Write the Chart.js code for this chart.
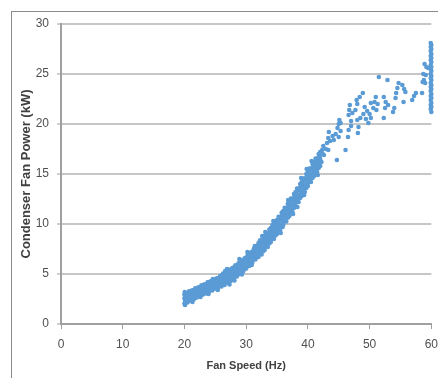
<!DOCTYPE html>
<html><head><meta charset="utf-8">
<script src="https://cdn.jsdelivr.net/npm/chart.js@4"></script>
<style>
html,body{margin:0;padding:0;background:#fff;overflow:hidden;width:438px;height:378px;}
#frame{position:absolute;left:11px;top:11px;width:600px;height:600px;border-left:1px solid #8a8a8a;border-top:1px solid #8a8a8a;}
#wrap{position:absolute;left:0;top:0;width:446px;height:378px;}
</style></head><body>
<div id="frame"></div>
<div id="wrap"><canvas id="c" width="446" height="378"></canvas></div>
<script>
// Axis settings / labels
const xTitle = 'Fan Speed (Hz)';
const yTitle = 'Condenser Fan Power (kW)';
const xTicks = [0, 10, 20, 30, 40, 50, 60];
const yTicks = [0, 5, 10, 15, 20, 25, 30];

// Dense operating band, [fan speed Hz, fan power kW]
const bandReadings = [
[20.00,2.05],[20.00,2.55],[20.00,2.95],[20.25,2.28],[20.25,2.53],[20.25,3.08],
[20.50,2.15],[20.50,2.75],[20.50,3.00],[20.75,2.32],[20.75,2.72],[20.75,3.27],
[21.00,2.35],[21.00,2.85],[21.00,3.25],[21.25,2.58],[21.25,2.83],[21.25,3.38],
[21.50,2.45],[21.50,3.05],[21.50,3.30],[21.75,2.63],[21.75,3.03],[21.75,3.58],
[22.00,2.65],[22.00,3.15],[22.00,3.55],[22.25,2.88],[22.25,3.13],[22.25,3.68],
[22.50,2.75],[22.50,3.35],[22.50,3.60],[22.75,2.93],[22.75,3.33],[22.75,3.88],
[23.00,2.95],[23.00,3.45],[23.00,3.85],[23.25,3.18],[23.25,3.43],[23.25,3.98],
[23.50,3.05],[23.50,3.65],[23.50,3.90],[23.75,3.23],[23.75,3.63],[23.75,4.18],
[24.00,3.25],[24.00,3.75],[24.00,4.15],[24.25,3.48],[24.25,3.73],[24.25,4.28],
[24.50,3.35],[24.50,3.95],[24.50,4.20],[24.75,3.53],[24.75,3.93],[24.75,4.48],
[25.00,3.55],[25.00,4.05],[25.00,4.45],[25.25,3.78],[25.25,4.03],[25.25,4.58],
[25.50,3.65],[25.50,4.25],[25.50,4.50],[25.75,3.83],[25.75,4.23],[25.75,4.78],
[26.00,3.75],[26.00,4.35],[26.00,4.85],[26.25,4.00],[26.25,4.50],[26.25,5.05],
[26.50,3.90],[26.50,4.45],[26.50,4.95],[26.75,4.10],[26.75,4.75],[26.75,5.20],
[27.00,4.15],[27.00,4.75],[27.00,5.25],[27.25,4.40],[27.25,4.90],[27.25,5.45],
[27.50,4.30],[27.50,4.85],[27.50,5.35],[27.75,4.50],[27.75,5.15],[27.75,5.60],
[28.00,4.55],[28.00,5.15],[28.00,5.65],[28.25,4.83],[28.25,5.33],[28.25,5.88],
[28.50,4.75],[28.50,5.30],[28.50,5.80],[28.75,4.98],[28.75,5.63],[28.75,6.08],
[29.00,5.05],[29.00,5.65],[29.00,6.15],[29.25,5.33],[29.25,5.83],[29.25,6.38],
[29.50,5.25],[29.50,5.80],[29.50,6.30],[29.75,5.48],[29.75,6.13],[29.75,6.58],
[30.00,5.55],[30.00,6.15],[30.00,6.65],[30.25,5.85],[30.25,6.35],[30.25,6.90],
[30.50,5.80],[30.50,6.35],[30.50,6.85],[30.75,6.05],[30.75,6.70],[30.75,7.15],
[31.00,6.15],[31.00,6.75],[31.00,7.25],[31.25,6.48],[31.25,6.98],[31.25,7.53],
[31.50,6.45],[31.50,7.00],[31.50,7.50],[31.75,6.73],[31.75,7.38],[31.75,7.83],
[32.00,6.70],[32.00,7.40],[32.00,8.10],[32.25,7.03],[32.25,7.73],[32.25,8.38],
[32.50,6.95],[32.50,7.65],[32.50,8.30],[32.75,7.28],[32.75,8.03],[32.75,8.68],
[33.00,7.40],[33.00,8.10],[33.00,8.80],[33.25,7.75],[33.25,8.45],[33.25,9.10],
[33.50,7.70],[33.50,8.40],[33.50,9.05],[33.75,8.05],[33.75,8.80],[33.75,9.45],
[34.00,8.20],[34.00,8.90],[34.00,9.60],[34.25,8.55],[34.25,9.25],[34.25,9.90],
[34.50,8.50],[34.50,9.20],[34.50,9.85],[34.75,8.85],[34.75,9.60],[34.75,10.25],
[35.00,9.00],[35.00,9.70],[35.00,10.40],[35.25,9.38],[35.25,10.08],[35.25,10.73],
[35.50,9.35],[35.50,10.05],[35.50,10.70],[35.75,9.73],[35.75,10.48],[35.75,11.13],
[36.00,9.90],[36.00,10.60],[36.00,11.30],[36.25,10.28],[36.25,10.98],[36.25,11.63],
[36.50,10.25],[36.50,10.95],[36.50,11.60],[36.75,10.63],[36.75,11.38],[36.75,12.03],
[37.00,10.80],[37.00,11.50],[37.00,12.20],[37.25,11.20],[37.25,11.90],[37.25,12.55],
[37.50,11.20],[37.50,11.90],[37.50,12.55],[37.75,11.60],[37.75,12.35],[37.75,13.00],
[38.00,11.80],[38.00,12.50],[38.00,13.20],[38.25,12.20],[38.25,12.90],[38.25,13.55],
[38.50,12.20],[38.50,12.90],[38.50,13.55],[38.75,12.60],[38.75,13.35],[38.75,14.00],
[39.00,12.80],[39.00,13.50],[39.00,14.20],[39.25,13.20],[39.25,13.90],[39.25,14.55],
[39.50,13.20],[39.50,13.90],[39.50,14.55],[39.75,13.60],[39.75,14.35],[39.75,15.00],
[40.00,13.80],[40.00,14.50],[40.00,15.20],[40.25,14.20],[40.25,14.90],[40.25,15.55],
[40.50,14.20],[40.50,14.90],[40.50,15.55],[40.75,14.60],[40.75,15.35],[40.75,16.00],
[41.00,14.80],[41.00,15.50],[41.00,16.20],[41.25,15.20],[41.25,15.90],[41.25,16.55],
[41.50,15.20],[41.50,15.90],[41.50,16.55],[41.75,15.60],[41.75,16.35],[41.75,17.00],
[42.00,15.80],[42.00,16.50],[42.00,17.20]
];

// Further readings inside the band (between the ones above)
const bandReadingsInner = [
[20.125,2.29],[20.125,2.76],[20.375,2.41],[20.375,2.89],[20.625,2.39],[20.625,2.89],
[20.875,2.54],[20.875,3.06],[21.125,2.59],[21.125,3.06],[21.375,2.71],[21.375,3.19],
[21.625,2.69],[21.625,3.19],[21.875,2.84],[21.875,3.36],[22.125,2.89],[22.125,3.36],
[22.375,3.01],[22.375,3.49],[22.625,2.99],[22.625,3.49],[22.875,3.14],[22.875,3.66],
[23.125,3.19],[23.125,3.66],[23.375,3.31],[23.375,3.79],[23.625,3.29],[23.625,3.79],
[23.875,3.44],[23.875,3.96],[24.125,3.49],[24.125,3.96],[24.375,3.61],[24.375,4.09],
[24.625,3.59],[24.625,4.09],[24.875,3.74],[24.875,4.26],[25.125,3.79],[25.125,4.26],
[25.375,3.91],[25.375,4.39],[25.625,3.89],[25.625,4.39],[25.875,4.04],[25.875,4.56],
[26.125,4.05],[26.125,4.63],[26.375,4.20],[26.375,4.80],[26.625,4.20],[26.625,4.80],
[26.875,4.37],[26.875,4.97],[27.125,4.45],[27.125,5.03],[27.375,4.60],[27.375,5.20],
[27.625,4.60],[27.625,5.20],[27.875,4.77],[27.875,5.37],[28.125,4.87],[28.125,5.45],
[28.375,5.04],[28.375,5.64],[28.625,5.07],[28.625,5.67],[28.875,5.26],[28.875,5.86],
[29.125,5.37],[29.125,5.95],[29.375,5.54],[29.375,6.14],[29.625,5.57],[29.625,6.17],
[29.875,5.76],[29.875,6.36],[30.125,5.88],[30.125,6.46],[30.375,6.08],[30.375,6.68],
[30.625,6.13],[30.625,6.73],[30.875,6.35],[30.875,6.95],[31.125,6.49],[31.125,7.07],
[31.375,6.72],[31.375,7.32],[31.625,6.79],[31.625,7.39],[31.875,7.04],[31.875,7.64],
[32.125,7.14],[32.125,7.87],[32.375,7.37],[32.375,8.12],[32.625,7.42],[32.625,8.16],
[32.875,7.64],[32.875,8.42],[33.125,7.85],[33.125,8.58],[33.375,8.10],[33.375,8.85],
[33.625,8.18],[33.625,8.92],[33.875,8.42],[33.875,9.20],[34.125,8.65],[34.125,9.38],
[34.375,8.90],[34.375,9.65],[34.625,8.98],[34.625,9.72],[34.875,9.22],[34.875,10.00],
[35.125,9.47],[35.125,10.20],[35.375,9.74],[35.375,10.49],[35.625,9.85],[35.625,10.59],
[35.875,10.11],[35.875,10.89],[36.125,10.37],[36.125,11.10],[36.375,10.64],[36.375,11.39],
[36.625,10.75],[36.625,11.49],[36.875,11.01],[36.875,11.79],[37.125,11.28],[37.125,12.01],
[37.375,11.58],[37.375,12.33],[37.625,11.71],[37.625,12.45],[37.875,12.00],[37.875,12.78],
[38.125,12.28],[38.125,13.01],[38.375,12.58],[38.375,13.33],[38.625,12.71],[38.625,13.45],
[38.875,13.00],[38.875,13.78],[39.125,13.28],[39.125,14.01],[39.375,13.58],[39.375,14.33],
[39.625,13.71],[39.625,14.45],[39.875,14.00],[39.875,14.78],[40.125,14.28],[40.125,15.01],
[40.375,14.58],[40.375,15.33],[40.625,14.71],[40.625,15.45],[40.875,15.00],[40.875,15.78],
[41.125,15.28],[41.125,16.01],[41.375,15.58],[41.375,16.33],[41.625,15.71],[41.625,16.45],
[41.875,16.00],[41.875,16.78]
];

// Ragged readings along the band edges
const bandEdgeReadings = [
[20.10,1.90],[20.05,3.20],[22.60,2.70],[24.60,4.50],[26.90,5.50],[29.30,4.95],
[33.10,9.20],[35.90,9.70],[38.30,11.70],[39.80,15.50],[28.10,4.35],[31.40,7.80],
[21.30,2.20],[23.90,3.00],[25.40,3.40],[26.60,5.30],[27.30,3.95],[28.90,6.50],
[30.20,7.20],[30.90,5.90],[32.60,8.80],[34.40,10.30],[35.60,9.10],[36.80,12.40],
[37.60,11.00],[38.90,14.60],[39.40,12.90],[40.60,16.30],[41.60,14.90],[42.20,16.20],
[42.40,17.00]
];

// Scattered readings above 42 Hz
const sparseReadings = [
[42.3,17.4],[42.5,17.8],[42.6,16.9],[42.9,17.5],[43.1,18.1],[43.3,17.4],[43.3,18.6],
[43.4,19.2],[43.6,18.3],[44.0,18.8],[44.2,18.4],[44.5,19.0],[44.7,16.4],[44.8,19.6],
[45.0,18.7],[45.0,20.0],[45.1,20.4],[45.3,19.3],[45.3,20.1],[46.1,17.4],[46.5,18.7],
[46.6,19.4],[46.6,20.9],[46.7,21.4],[46.8,21.9],[47.0,20.3],[47.0,19.8],[47.2,21.1],
[47.7,21.4],[47.9,22.4],[48.0,22.0],[48.0,20.4],[48.1,19.1],[48.2,19.7],[48.4,22.7],
[48.5,20.6],[48.9,23.1],[49.0,21.0],[49.2,21.7],[49.4,20.5],[49.6,21.3],[49.8,20.1],
[50.0,21.0],[50.2,20.6],[50.2,22.1],[50.6,21.6],[50.8,22.2],[51.0,22.7],[51.1,21.4],
[51.3,22.0],[51.5,24.7],[52.3,20.6],[52.3,22.7],[52.5,21.6],[52.6,22.2],[52.9,24.4],
[53.0,21.9],[53.8,21.2],[54.0,21.6],[54.2,22.6],[54.3,23.1],[54.5,23.6],[54.7,24.1],
[55.3,23.9],[55.5,22.2],[55.6,23.5],[55.8,23.2],[56.9,22.4],[57.2,22.8],[57.5,23.1],
[58.5,23.1],[58.6,24.2],[58.8,24.4],[59.0,24.1],[58.7,25.0],[59.1,24.9],[58.9,26.0],
[59.2,25.7],[59.5,25.6]
];

// Readings at full fan speed (60 Hz)
const fullSpeedReadings = [
[60.0,21.2],[59.9,21.5],[60.0,21.7],[59.9,21.9],[60.0,22.1],[59.9,22.4],[60.0,22.6],
[59.9,22.8],[60.0,23.0],[59.9,23.3],[60.0,23.5],[59.9,23.7],[60.0,23.9],[59.9,24.1],
[60.0,24.4],[59.9,24.6],[60.0,24.8],[59.9,25.0],[60.0,25.3],[59.9,25.5],[60.0,25.7],
[59.9,25.9],[60.0,26.2],[59.9,26.4],[60.0,26.6],[59.9,26.8],[60.0,27.0],[59.9,27.3],
[60.0,27.5],[59.9,27.7],[60.0,27.9],[59.9,28.1]
];

const points = [...bandReadings, ...bandReadingsInner, ...bandEdgeReadings,
                ...sparseReadings, ...fullSpeedReadings].map(([x, y]) => ({x, y}));
const gridColor = '#c6c6c6';
const axisColor = '#a0a0a0';
const tickFont = {family: 'Liberation Sans', size: 12};

new Chart(document.getElementById('c'), {
  type: 'scatter',
  data: {datasets: [{
    data: points,
    pointRadius: 2.3,
    pointBackgroundColor: '#5b9bd5',
    pointBorderWidth: 0,
    pointHoverRadius: 2.3,
    clip: false
  }]},
  options: {
    responsive: false,
    animation: false,
    events: [],
    layout: {padding: {left: 0, top: 24, right: 11.5, bottom: 0}},
    plugins: {legend: {display: false}, tooltip: {enabled: false}},
    scales: {
      x: {
        type: 'linear', min: xTicks[0], max: xTicks[xTicks.length - 1],
        afterBuildTicks: s => { s.ticks = xTicks.map(v => ({value: v})); },
        ticks: {color: '#505050', font: tickFont, padding: 8, maxRotation: 0},
        grid: {drawOnChartArea: false, drawTicks: true, tickLength: 5, tickColor: axisColor, tickWidth: 1},
        border: {display: true, color: axisColor, width: 2},
        title: {display: true, text: xTitle, color: '#404040',
                font: {family: 'Liberation Sans', size: 11, weight: 'bold'}, padding: {top: 0, bottom: 5}},
        afterFit: s => { s.height = 54; }
      },
      y: {
        type: 'linear', min: yTicks[0], max: yTicks[yTicks.length - 1],
        afterBuildTicks: s => { s.ticks = yTicks.map(v => ({value: v})); },
        ticks: {color: '#505050', font: tickFont, padding: 8},
        grid: {drawOnChartArea: true, drawTicks: true, tickLength: 4, color: gridColor, lineWidth: 2, tickColor: axisColor, tickWidth: 1},
        border: {display: true, color: axisColor, width: 2},
        title: {display: true, text: yTitle, color: '#404040',
                font: {family: 'Liberation Sans', size: 13, weight: 'bold'}, padding: {top: 19, bottom: 0}},
        afterFit: s => { s.width = 61; }
      }
    }
  }
});
</script>
</body></html>
